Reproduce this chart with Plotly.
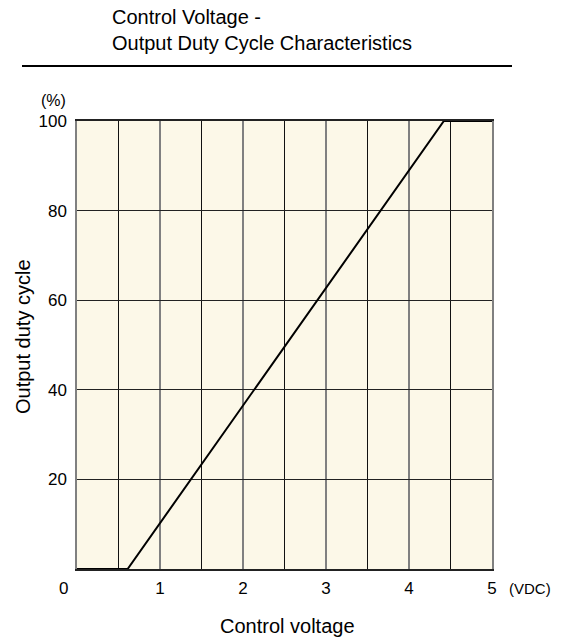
import plotly.graph_objects as go

# Data
control_voltage = [0, 0.61, 4.42, 5]
duty_cycle = [0, 0, 100, 100]
x_tick_vals = [1, 2, 3, 4, 5]
x_tick_text = ["1", "2", "3", "4", "5"]
y_tick_vals = [20, 40, 60, 80, 100]
y_tick_text = ["20", "40", "60", "80", "100"]

W, H = 564, 639
L, R, T, B = 77, 72, 121, 70
pw, ph = W - L - R, H - T - B

def px(x):
    return (x - L) / pw

def py(y):
    return (H - B - y) / ph

FONT = "Liberation Sans, Arial, sans-serif"

fig = go.Figure()
fig.add_trace(go.Scatter(
    x=control_voltage, y=duty_cycle, mode="lines",
    line=dict(color="black", width=2), cliponaxis=False,
    showlegend=False, hoverinfo="skip",
))

fig.update_layout(
    width=W, height=H,
    margin=dict(l=L, r=R, t=T, b=B),
    paper_bgcolor="white",
    plot_bgcolor="#FCF8E8",
    font=dict(family=FONT, color="black", size=17),
    xaxis=dict(
        range=[0, 5], tickvals=x_tick_vals, ticktext=x_tick_text,
        showgrid=True, gridcolor="#808080", gridwidth=1.5,
        minor=dict(dtick=0.5, showgrid=True, gridcolor="#111111", gridwidth=1),
        showline=True, linecolor="#222222", linewidth=1.5, mirror=True,
        zeroline=False, ticks="", ticklabelstandoff=3,
        tickfont=dict(size=17),
    ),
    yaxis=dict(
        range=[0, 100], tickvals=y_tick_vals, ticktext=y_tick_text,
        showgrid=True, gridcolor="#222222", gridwidth=1,
        showline=True, linecolor="#808080", linewidth=1.5, mirror=True,
        zeroline=False, ticks="", ticklabelstandoff=5,
        tickfont=dict(size=17),
    ),
    shapes=[dict(
        type="line", xref="paper", yref="paper",
        x0=px(22), x1=px(512), y0=py(66), y1=py(66),
        line=dict(color="black", width=2),
    )],
    annotations=[
        dict(text="Control Voltage -<br>Output Duty Cycle Characteristics",
             xref="paper", yref="paper", x=px(110), y=py(30),
             xanchor="left", yanchor="middle", align="left", showarrow=False,
             font=dict(size=20)),
        dict(text="(%)", xref="paper", yref="paper", x=px(68), y=py(100),
             xanchor="right", yanchor="middle", showarrow=False, font=dict(size=16)),
        dict(text="0", xref="paper", yref="paper", x=px(63), y=py(588),
             xanchor="center", yanchor="middle", showarrow=False, font=dict(size=17)),
        dict(text="(VDC)", xref="paper", yref="paper", x=px(507), y=py(588),
             xanchor="left", yanchor="middle", showarrow=False, font=dict(size=15)),
        dict(text="Control voltage", xref="paper", yref="paper", x=px(287), y=py(626),
             xanchor="center", yanchor="middle", showarrow=False, font=dict(size=20)),
        dict(text="Output duty cycle", xref="paper", yref="paper", x=px(23), y=py(337),
             xanchor="center", yanchor="middle", showarrow=False, textangle=-90,
             font=dict(size=20)),
    ],
)

fig.write_html("out.html",
               config={"displayModeBar": False},
               post_script="document.body.style.margin='0';document.body.style.overflow='hidden';")
